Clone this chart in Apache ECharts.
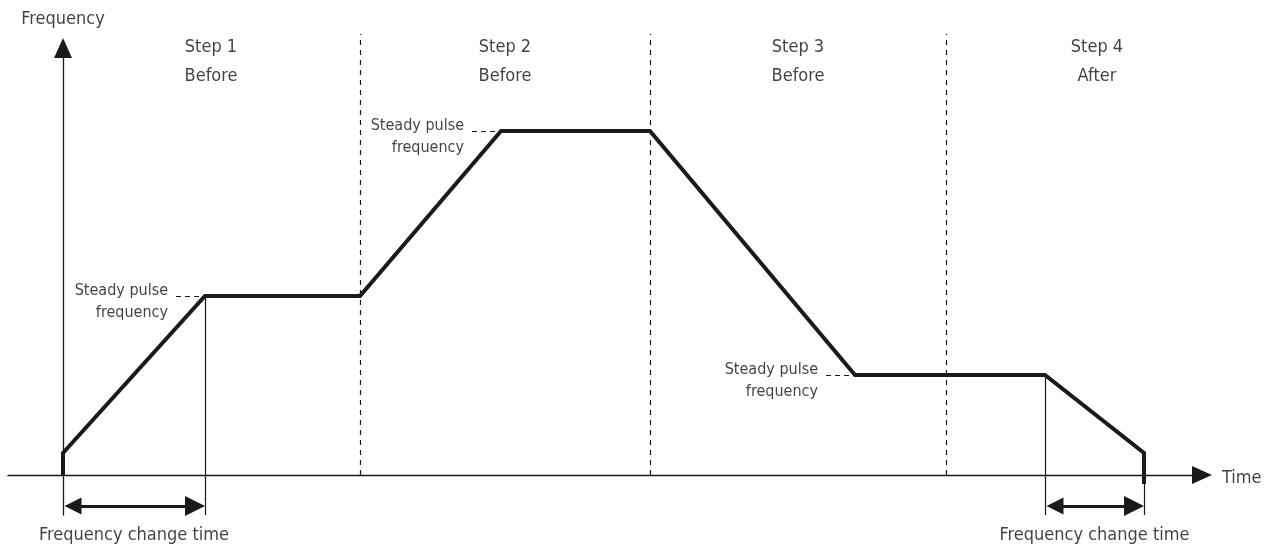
<!DOCTYPE html>
<html>
<head>
<meta charset="utf-8">
<script src="https://cdn.jsdelivr.net/npm/echarts@6/dist/echarts.min.js"></script>
<style>
html,body{margin:0;padding:0;background:#fff;}
#c{width:1272px;height:545px;}
</style>
</head>
<body>
<div id="c"></div>
<script>
// ---- data ----
var profileTime = [0, 0, 142, 297, 438, 587, 792, 982, 1081, 1081];
var profileFreq = [0, 22, 179, 179, 344, 344, 100, 100, 22, -9];
var stepNames = ['Step 1', 'Step 2', 'Step 3', 'Step 4'];
var stepStates = ['Before', 'Before', 'Before', 'After'];
var stepCenters = [148, 442, 735, 1034];
var stepBoundaries = [297, 587, 883];
var steadyCorners = [[142, 179], [438, 344], [792, 100]];
var changeSpans = [[0, 142], [982, 1081]];
var changeGuides = [[142, 179], [982, 100], [1081, -9]];
var axisNames = { x: 'Time', y: 'Frequency' };
var steadyText = 'Steady pulse\nfrequency';
var changeText = 'Frequency change time';

// ---- layout constants ----
var X_MIN = -55, X_MAX = 1139, Y_MIN = -40, Y_MAX = 427;
var FONT = '"DejaVu Sans Condensed", "DejaVu Sans", sans-serif';
var FS = 18;
var FS_SMALL = 16;
var INK = '#1a1a1a';
var TXT = '#111';
var TOP_Y = 441;      // top of dashed boundaries
var ARROW_Y = -31;    // double arrow level
var HEAD = 10;        // half arrow-head length
var GUIDE_BOTTOM = -40;
var CHANGE_LABEL_Y = -60;

var profile = profileTime.map(function (t, i) { return [t, profileFreq[i]]; });

var boundaryLines = stepBoundaries.map(function (x) {
  return { coords: [[x, 0], [x, TOP_Y]] };
});
var steadyDashes = steadyCorners.map(function (p) {
  return { coords: [[p[0] - 29, p[1]], [p[0], p[1]]] };
});
var guideLines = changeGuides.map(function (p) {
  return { coords: [[p[0], p[1]], [p[0], GUIDE_BOTTOM]] };
});
var spanArrows = changeSpans.map(function (s) {
  return { coords: [[s[0] + HEAD, ARROW_Y], [s[1] - HEAD, ARROW_Y]] };
});

var textPoints = [];
stepNames.forEach(function (n, i) {
  textPoints.push({ value: [stepCenters[i], 428], label: { formatter: n } });
  textPoints.push({ value: [stepCenters[i], 399], label: { formatter: stepStates[i] } });
});
changeSpans.forEach(function (s) {
  textPoints.push({ value: [(s[0] + s[1]) / 2, CHANGE_LABEL_Y], label: { formatter: changeText } });
});
textPoints.push({ value: [0, 456], label: { formatter: axisNames.y } });
textPoints.push({ value: [X_MAX + 20, -3], label: { formatter: axisNames.x, align: 'left' } });

var steadyPoints = steadyCorners.map(function (p) {
  return { value: p };
});

var chart = echarts.init(document.getElementById('c'), null, { renderer: 'canvas' });
chart.setOption({
  animation: false,
  backgroundColor: '#fff',
  textStyle: { fontFamily: FONT },
  grid: { left: 8, right: 70, top: 48, bottom: 30 },
  xAxis: {
    type: 'value', min: X_MIN, max: X_MAX,
    axisLine: { onZero: true, symbol: ['none', 'triangle'], symbolSize: [18, 20],
      lineStyle: { color: INK, width: 1.3 } },
    axisTick: { show: false }, axisLabel: { show: false }, splitLine: { show: false }
  },
  yAxis: {
    type: 'value', min: Y_MIN, max: Y_MAX,
    axisLine: { onZero: true, symbol: ['none', 'triangle'], symbolSize: [18, 20],
      lineStyle: { color: INK, width: 1.3 } },
    axisTick: { show: false }, axisLabel: { show: false }, splitLine: { show: false }
  },
  series: [
    {
      type: 'lines', coordinateSystem: 'cartesian2d', clip: false, silent: true,
      lineStyle: { color: INK, width: 1.2, type: [5, 5], opacity: 1 },
      data: boundaryLines
    },
    {
      type: 'lines', coordinateSystem: 'cartesian2d', clip: false, silent: true,
      lineStyle: { color: INK, width: 1.1, type: [5, 4], opacity: 1 },
      data: steadyDashes
    },
    {
      type: 'lines', coordinateSystem: 'cartesian2d', clip: false, silent: true,
      lineStyle: { color: INK, width: 1.2, opacity: 1 },
      data: guideLines
    },
    {
      type: 'lines', coordinateSystem: 'cartesian2d', clip: false, silent: true,
      symbol: ['triangle', 'triangle'], symbolSize: [17, 20],
      lineStyle: { color: INK, width: 3, opacity: 1 },
      data: spanArrows
    },
    {
      type: 'line', data: profile, showSymbol: false, symbol: 'none', clip: false,
      lineStyle: { color: INK, width: 4, join: 'miter' }, z: 5
    },
    {
      type: 'scatter', data: textPoints, symbolSize: 0, clip: false, silent: true,
      label: { show: true, position: 'inside', color: TXT, fontSize: FS, fontFamily: FONT,
        align: 'center', verticalAlign: 'middle' }
    },
    {
      type: 'scatter', data: steadyPoints, symbolSize: 0, clip: false, silent: true,
      label: { show: true, position: 'left', distance: 37, offset: [0, 6], formatter: steadyText,
        color: TXT, fontSize: FS_SMALL, fontFamily: FONT, align: 'right', lineHeight: 22 }
    }
  ]
});
</script>
</body>
</html>
